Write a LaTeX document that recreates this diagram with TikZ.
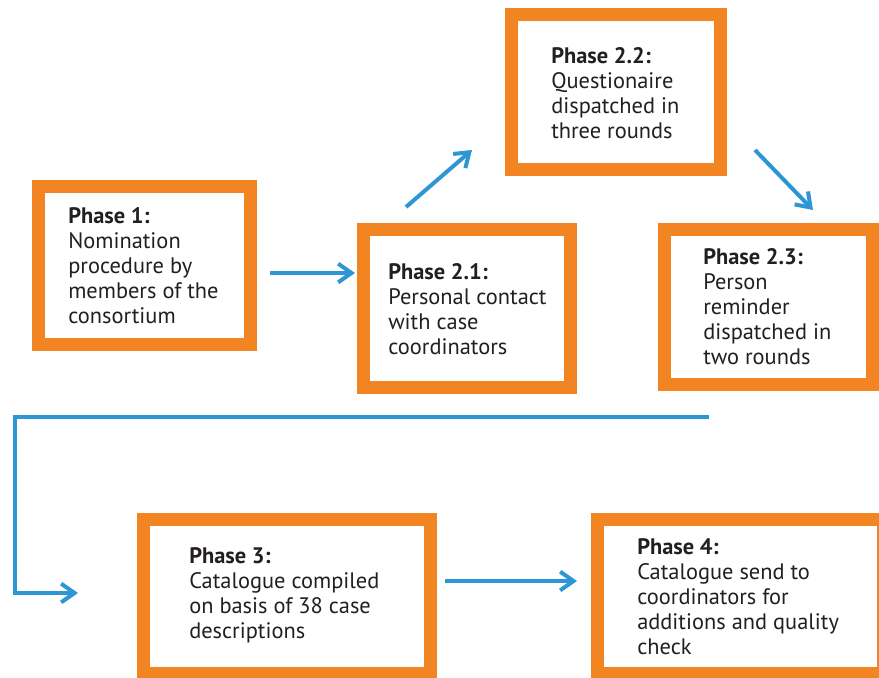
\documentclass[tikz,border=0pt]{standalone}
\usepackage{fontspec}
\setmainfont{PT Sans}
\usetikzlibrary{arrows.meta}
\definecolor{phaseorange}{HTML}{F28421}
\definecolor{flowblue}{HTML}{2E96D5}
\definecolor{textgray}{HTML}{231F20}

\begin{document}
\begin{tikzpicture}[x=0.75pt, y=-0.75pt,
    % Clean, minimal styles
    phasebox/.style={rectangle, draw=phaseorange, fill=white, line width=9.75pt, inner sep=0pt},
    phasetext/.style={anchor=west, align=left, inner sep=0pt, text=textgray, font=\fontsize{16.8}{18.75}\selectfont},
    flow/.style={-{Straight Barb[length=10pt, width=14pt]}, draw=flowblue, line width=3pt}
]
\useasboundingbox (0,0) rectangle (879,678);

% Phase boxes
\node[phasebox, minimum width=212*0.75pt, minimum height=158*0.75pt] (p1) at (144.5,265.5) {};
\node[phasebox, minimum width=207*0.75pt, minimum height=158*0.75pt] (p21) at (467,308.5) {};
\node[phasebox, minimum width=209*0.75pt, minimum height=155*0.75pt] (p22) at (616,92) {};
\node[phasebox, minimum width=208*0.75pt, minimum height=155*0.75pt] (p23) at (768.5,307) {};
\node[phasebox, minimum width=287*0.75pt, minimum height=154*0.75pt] (p3) at (287,596.5) {};
\node[phasebox, minimum width=286*0.75pt, minimum height=154*0.75pt] (p4) at (740.5,596.5) {};

% Texts - left aligned inside the boxes
\node[phasetext] (p1text) at ([shift={(36,0)}]p1.west)
    {\textbf{Phase 1:}\\Nomination\\procedure by\\members of the\\consortium};
\node[phasetext] (p21text) at ([shift={(31,1)}]p21.west)
    {\textbf{Phase 2.1:}\\Personal contact\\with case\\coordinators};
\node[phasetext] (p22text) at ([shift={(46,1)}]p22.west)
    {\textbf{Phase 2.2:}\\Questionaire\\dispatched in\\three rounds};
\node[phasetext] (p23text) at ([shift={(45,0)}]p23.west)
    {\textbf{Phase 2.3:}\\Person\\reminder\\dispatched in\\two rounds};
\node[phasetext] (p3text) at ([shift={(52,-1)}]p3.west)
    {\textbf{Phase 3:}\\Catalogue compiled\\on basis of 38 case\\descriptions};
\node[phasetext] (p4text) at ([shift={(46,0)}]p4.west)
    {\textbf{Phase 4:}\\Catalogue send to\\coordinators for\\additions and quality\\check};

% Flow arrows
\draw[flow] ([shift={(13,7.5)}]p1.east) -- ([shift={(-2,-35.5)}]p21.west);
\draw[flow] ([shift={(-61,-16)}]p21.north) -- ([shift={(-33,-26)}]p22.south west);
\draw[flow] ([shift={(28,-26)}]p22.south east) -- ([shift={(44.5,-13)}]p23.north);
\draw[flow] ([shift={(51,26)}]p23.south west) -| ([shift={(-122,-3.5)}]p3.west) -- ([shift={(-59,-3.5)}]p3.west);
\draw[flow] ([shift={(8,-15.5)}]p3.east) -- ([shift={(-14,-15.5)}]p4.west);

\end{tikzpicture}
\end{document}
